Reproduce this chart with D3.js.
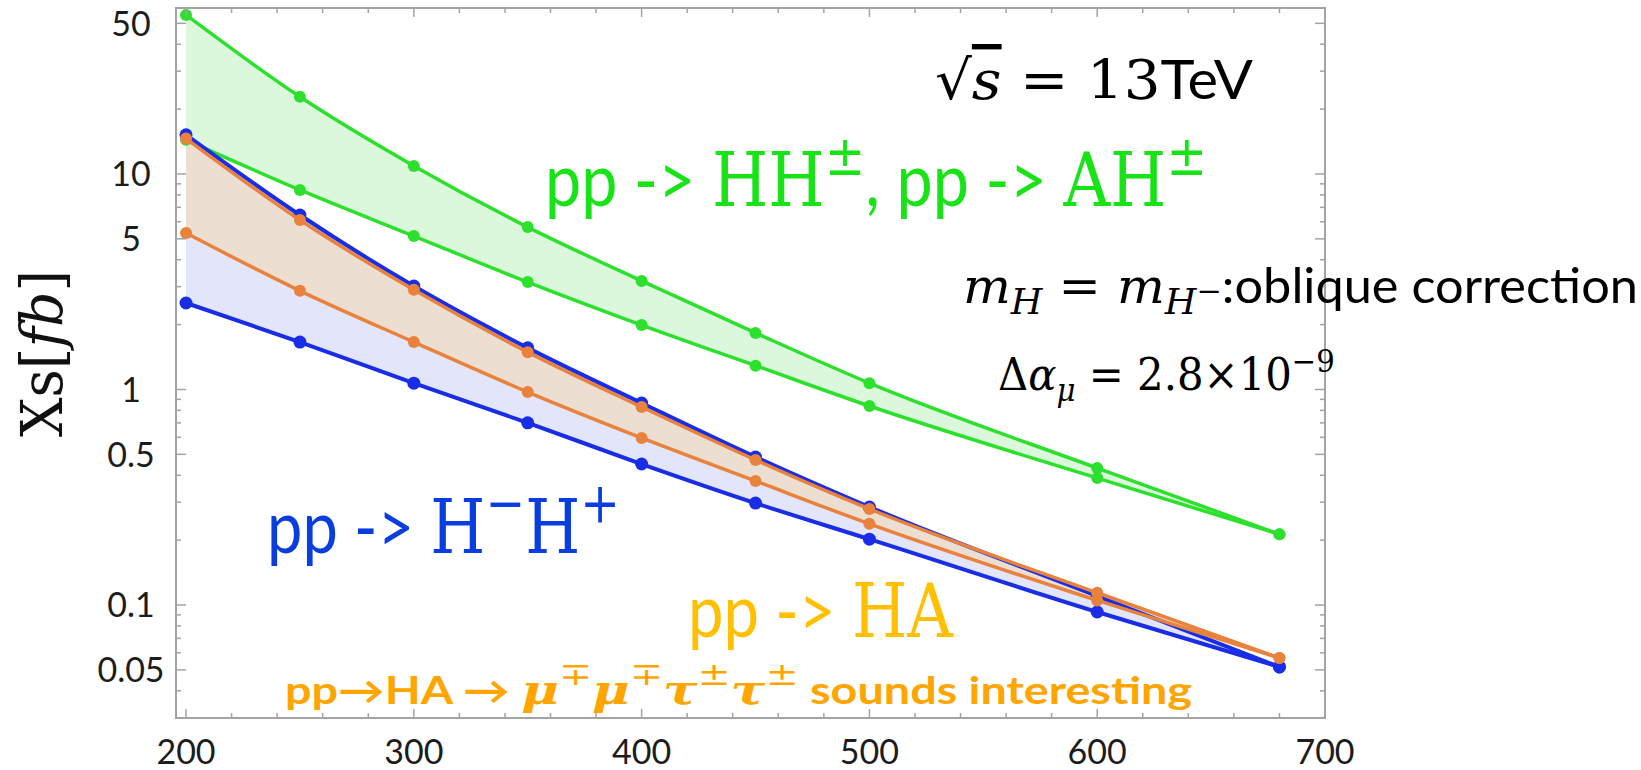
<!DOCTYPE html>
<html>
<head>
<meta charset="utf-8">
<script src="https://cdn.jsdelivr.net/npm/d3@7"></script>
<style>
  body { margin: 0; background: #fff; }
  text { white-space: pre; }
</style>
</head>
<body>
<div id="chart"></div>
<script>
const width = 1641;
const height = 770;

// masses (GeV) and cross sections (fb)
const masses = [200, 250, 300, 350, 400, 450, 500, 600, 680];
const xsHHUpper = [54.7, 22.8, 10.9, 5.67, 3.19, 1.83, 1.07, 0.432, 0.213];
const xsHHLower = [14.4, 8.43, 5.15, 3.15, 1.99, 1.29, 0.838, 0.388, 0.213];
const xsHpmUpper = [15.2, 6.45, 3.02, 1.56, 0.865, 0.486, 0.285, 0.110, 0.0516];
const xsHpmLower = [2.52, 1.66, 1.07, 0.70, 0.451, 0.297, 0.202, 0.0928, 0.0516];
const xsHAUpper = [14.6, 6.11, 2.90, 1.49, 0.829, 0.471, 0.279, 0.114, 0.0568];
const xsHALower = [5.32, 2.87, 1.66, 0.973, 0.596, 0.376, 0.238, 0.105, 0.0568];

const xTickLabels = [200, 300, 400, 500, 600, 700];
const yTickLabels = [0.05, 0.1, 0.5, 1, 5, 10, 50];

const SANS = "Lato, 'Open Sans', sans-serif";
const SERIF = "'DejaVu Serif', 'Liberation Serif', serif";

const svg = d3.select("#chart")
    .append("svg")
    .attr("width", width)
    .attr("height", height);

// plot frame
const frame = { left: 176, right: 1325, top: 8, bottom: 718 };

const x = d3.scaleLinear().domain([195.6, 700]).range([frame.left, frame.right]);
const y = d3.scaleLog().domain([0.0299, 58.9]).range([frame.bottom, frame.top]);

// bands: fill first, then lines + points
const bands = [
    { upper: xsHHUpper, lower: xsHHLower, fill: "#dcf8dc", line: "#2ee02e", r: 6, w: 3.5 },
    { upper: xsHpmUpper, lower: xsHpmLower, fill: "#e3e6fa", line: "#1a2de6", r: 6.5, w: 4 },
    { upper: xsHAUpper, lower: xsHALower, fill: "#ecdfd1", line: "#e8823c", r: 6, w: 3.5 }
];

const area = d3.area()
    .x((d, i) => x(masses[i]))
    .y0(d => y(d[0]))
    .y1(d => y(d[1]))
    .curve(d3.curveMonotoneX);

const line = d3.line()
    .x((d, i) => x(masses[i]))
    .y(d => y(d))
    .curve(d3.curveMonotoneX);

svg.append("g")
    .selectAll("path")
    .data(bands)
    .join("path")
    .attr("d", b => area(b.lower.map((v, i) => [v, b.upper[i]])))
    .attr("fill", b => b.fill);

bands.forEach(b => {
    const g = svg.append("g");
    [b.upper, b.lower].forEach(series => {
        g.append("path")
            .attr("d", line(series))
            .attr("fill", "none")
            .attr("stroke", b.line)
            .attr("stroke-width", b.w)
            .attr("stroke-linejoin", "round");
        g.selectAll(null)
            .data(series)
            .join("circle")
            .attr("cx", (d, i) => x(masses[i]))
            .attr("cy", d => y(d))
            .attr("r", b.r)
            .attr("fill", b.line);
    });
});

// frame
svg.append("rect")
    .attr("x", frame.left).attr("y", frame.top)
    .attr("width", frame.right - frame.left).attr("height", frame.bottom - frame.top)
    .attr("fill", "none")
    .attr("stroke", "#a3a3a3")
    .attr("stroke-width", 2);

// ticks on all four sides, pointing inward
const ticks = svg.append("g").attr("stroke", "#a3a3a3").attr("stroke-width", 1.5);

const xMinor = d3.range(200, 701, 20);
xMinor.forEach(v => {
    const len = v % 100 === 0 ? 9 : 5;
    ticks.append("line").attr("x1", x(v)).attr("x2", x(v)).attr("y1", frame.bottom).attr("y2", frame.bottom - len);
    ticks.append("line").attr("x1", x(v)).attr("x2", x(v)).attr("y1", frame.top).attr("y2", frame.top + len);
});

const yMinor = [];
[-2, -1, 0, 1].forEach(e => {
    for (let k = 1; k <= 9; k++) {
        const v = k * Math.pow(10, e);
        if (v >= y.domain()[0] && v <= y.domain()[1]) yMinor.push({ v, major: k === 1 || k === 5 });
    }
});
yMinor.forEach(t => {
    const len = t.major ? 10 : 5;
    ticks.append("line").attr("x1", frame.left).attr("x2", frame.left + len).attr("y1", y(t.v)).attr("y2", y(t.v));
    ticks.append("line").attr("x1", frame.right).attr("x2", frame.right - len).attr("y1", y(t.v)).attr("y2", y(t.v));
});

// tick labels
svg.append("g")
    .selectAll("text")
    .data(xTickLabels)
    .join("text")
    .attr("x", d => x(d))
    .attr("y", 764)
    .attr("text-anchor", "middle")
    .attr("font-family", SANS)
    .attr("font-size", 34)
    .attr("fill", "#1c1c1c")
    .text(d => d);

svg.append("g")
    .selectAll("text")
    .data(yTickLabels)
    .join("text")
    .attr("x", 131)
    .attr("y", d => y(d))
    .attr("dy", "0.36em")
    .attr("text-anchor", "middle")
    .attr("font-family", SANS)
    .attr("font-size", 34)
    .attr("fill", "#1c1c1c")
    .text(d => d);

// rich text helper: runs with font, style, size factor and baseline offset
function richText(parent, xPos, yPos, size, color, runs, len) {
    const t = parent.append("text")
        .attr("x", xPos).attr("y", yPos)
        .attr("font-size", size)
        .attr("fill", color);
    let shift = 0;
    runs.forEach(r => {
        const target = (r.dy || 0) * size;
        const ts = t.append("tspan")
            .text(r.t)
            .attr("font-family", r.serif ? SERIF : SANS)
            .attr("font-size", size * (r.k || 1))
            .attr("dy", target - shift);
        if (r.it) ts.attr("font-style", "italic");
        if (r.b) ts.attr("font-weight", "bold");
        if (r.over) ts.style("text-decoration", "overline");
        shift = target;
    });
    if (len) t.attr("textLength", len).attr("lengthAdjust", "spacingAndGlyphs");
    return t;
}

// y axis title
const yTitle = svg.append("g").attr("transform", "translate(62,437) rotate(-90)");
richText(yTitle, 0, 0, 58, "#111", [
    { t: "Xs", serif: true },
    { t: "[", serif: true },
    { t: "fb", serif: true, it: true },
    { t: "]", serif: true }
], 167);

// annotations
richText(svg, 935, 99, 54, "#000", [
    { t: "√", serif: true },
    { t: "s", serif: true, it: true, over: true },
    { t: " = 13", serif: true },
    { t: "TeV" }
], 318);

richText(svg, 545, 206, 74, "#17e317", [
    { t: "pp -> " },
    { t: "HH", serif: true },
    { t: "±", serif: true, k: 0.75, dy: -0.42 },
    { t: ", pp -> " },
    { t: "AH", serif: true },
    { t: "±", serif: true, k: 0.75, dy: -0.42 }
], 662);

richText(svg, 963, 303, 48, "#000", [
    { t: "m", serif: true, it: true },
    { t: "H", serif: true, it: true, k: 0.72, dy: 0.22 },
    { t: " = ", serif: true },
    { t: "m", serif: true, it: true },
    { t: "H", serif: true, it: true, k: 0.72, dy: 0.22 },
    { t: "−", serif: true, k: 0.6, dy: -0.05 },
    { t: ":oblique correction" }
], 675);

richText(svg, 998, 390, 44, "#000", [
    { t: "Δ", serif: true },
    { t: "α", serif: true, it: true },
    { t: "μ", serif: true, it: true, k: 0.7, dy: 0.25 },
    { t: " = 2.8×10", serif: true },
    { t: "−9", serif: true, k: 0.7, dy: -0.42 }
], 337);

richText(svg, 267, 553, 74, "#0a3de0", [
    { t: "pp -> " },
    { t: "H", serif: true },
    { t: "−", serif: true, k: 0.75, dy: -0.42 },
    { t: "H", serif: true },
    { t: "+", serif: true, k: 0.75, dy: -0.42 }
], 353);

richText(svg, 688, 637, 74, "#ffc000", [
    { t: "pp -> " },
    { t: "HA", serif: true }
], 265);

richText(svg, 285, 704, 38, "#ffa500", [
    { t: "pp→HA → ", b: true },
    { t: "μ", serif: true, it: true, b: true, k: 1.1 },
    { t: "∓", serif: true, k: 0.85, dy: -0.5 },
    { t: "μ", serif: true, it: true, b: true, k: 1.1 },
    { t: "∓", serif: true, k: 0.85, dy: -0.5 },
    { t: "τ", serif: true, it: true, b: true, k: 1.1 },
    { t: "±", serif: true, k: 0.85, dy: -0.5 },
    { t: "τ", serif: true, it: true, b: true, k: 1.1 },
    { t: "±", serif: true, k: 0.85, dy: -0.5 },
    { t: " sounds interesting", b: true }
], 907);
</script>
</body>
</html>
